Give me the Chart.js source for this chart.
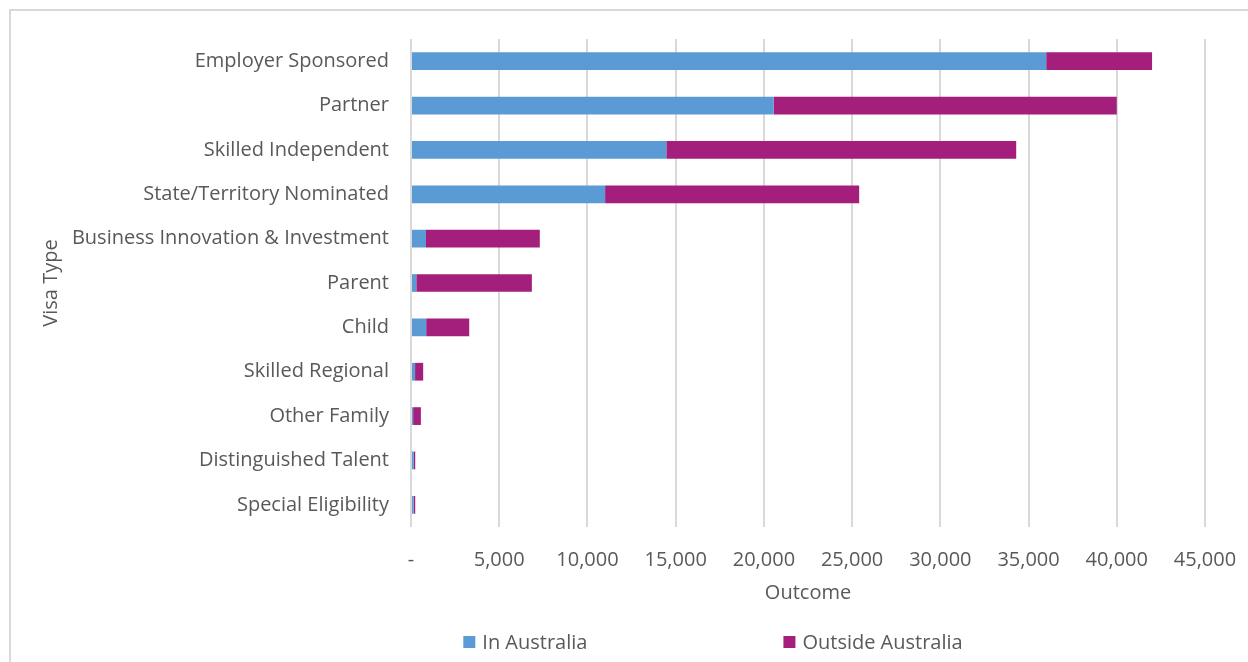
<!DOCTYPE html>
<html>
<head>
<meta charset="utf-8">
<script src="https://cdn.jsdelivr.net/npm/chart.js@4/dist/chart.umd.min.js"></script>
<style>
  html, body { margin: 0; padding: 0; background: #fff; overflow: hidden; }
  #wrap { position: absolute; left: 0; top: 0; width: 1248px; height: 662px; }
  #frame { position: absolute; left: 9px; top: 9px; width: 1300px; height: 700px;
           border: 2px solid #d9d9d9; pointer-events: none; }
</style>
</head>
<body>
<div id="wrap"><canvas id="chart"></canvas></div>
<div id="frame"></div>
<script>
// visa types, top to bottom
var categories = [
  'Employer Sponsored', 'Partner', 'Skilled Independent', 'State/Territory Nominated',
  'Business Innovation & Investment', 'Parent', 'Child', 'Skilled Regional',
  'Other Family', 'Distinguished Talent', 'Special Eligibility'
];
var inAustralia      = [36000, 20550, 14470, 11000, 850, 300, 860, 230, 120, 160, 150];
var outsideAustralia = [ 6000, 19450, 19830, 14400, 6450, 6550, 2440, 460, 440, 80, 90];
var xTicks = [0, 5000, 10000, 15000, 20000, 25000, 30000, 35000, 40000, 45000];

var textColor = '#595959';
var fontFamily = "'Open Sans', sans-serif";

// Excel-style legend row, spread out under the plot
var legendRow = {
  id: 'legendRow',
  afterDraw: function (chart, args, opts) {
    var ctx = chart.ctx;
    ctx.save();
    ctx.font = opts.size + 'px ' + fontFamily;
    ctx.textBaseline = 'middle';
    var items = chart.data.datasets.map(function (d) {
      return { text: d.label, color: d.backgroundColor,
               w: opts.box + opts.gap + ctx.measureText(d.label).width };
    });
    var total = items.reduce(function (s, it) { return s + it.w; }, 0) + opts.spacing * (items.length - 1);
    var x = opts.centerX - total / 2;
    items.forEach(function (it) {
      ctx.fillStyle = it.color;
      ctx.fillRect(x, opts.y - opts.box / 2, opts.box, opts.box);
      ctx.fillStyle = textColor;
      ctx.fillText(it.text, x + opts.box + opts.gap, opts.y + 1);
      x += it.w + opts.spacing;
    });
    ctx.restore();
  }
};

new Chart(document.getElementById('chart'), {
  type: 'bar',
  data: {
    labels: categories,
    datasets: [{
      label: 'In Australia',
      data: inAustralia,
      backgroundColor: '#5b9bd5'
    }, {
      label: 'Outside Australia',
      data: outsideAustralia,
      backgroundColor: '#a31f7b'
    }]
  },
  options: {
    indexAxis: 'y',
    responsive: true,
    maintainAspectRatio: false,
    animation: false,
    barPercentage: 0.4,
    categoryPercentage: 1,
    layout: { padding: { top: 39, right: 43, bottom: 57, left: 0 } },
    font: { family: fontFamily, size: 20 },
    scales: {
      x: {
        stacked: true,
        min: 0,
        max: 45000,
        afterBuildTicks: function (scale) {
          scale.ticks = xTicks.map(function (v) { return { value: v }; });
        },
        // invisible tick marks give the gap under the plot
        grid: { color: '#d9d9d9', lineWidth: 2, drawTicks: true, tickLength: 21, tickColor: 'rgba(0,0,0,0)' },
        border: { display: false },
        ticks: {
          color: textColor,
          font: { family: fontFamily, size: 20 },
          padding: 0,
          maxRotation: 0,
          callback: function (v) { return v === 0 ? '-' : v.toLocaleString('en-US'); }
        },
        title: {
          display: true,
          text: 'Outcome',
          color: textColor,
          font: { family: fontFamily, size: 20 },
          padding: { top: 9, bottom: 0 }
        }
      },
      y: {
        stacked: true,
        grid: { display: false, drawTicks: false },
        border: { display: false },
        ticks: {
          color: textColor,
          font: { family: fontFamily, size: 20 },
          padding: 22,
          autoSkip: false
        },
        title: {
          display: true,
          text: 'Visa Type',
          color: textColor,
          font: { family: fontFamily, size: 20 },
          padding: { top: 39, bottom: 0 }
        },
        afterFit: function (scale) { scale.width = 411; }
      }
    },
    plugins: {
      legend: { display: false },
      tooltip: { enabled: false },
      legendRow: { size: 20, box: 12, gap: 7, spacing: 196, centerX: 713, y: 642 }
    }
  },
  plugins: [legendRow]
});
</script>
</body>
</html>
